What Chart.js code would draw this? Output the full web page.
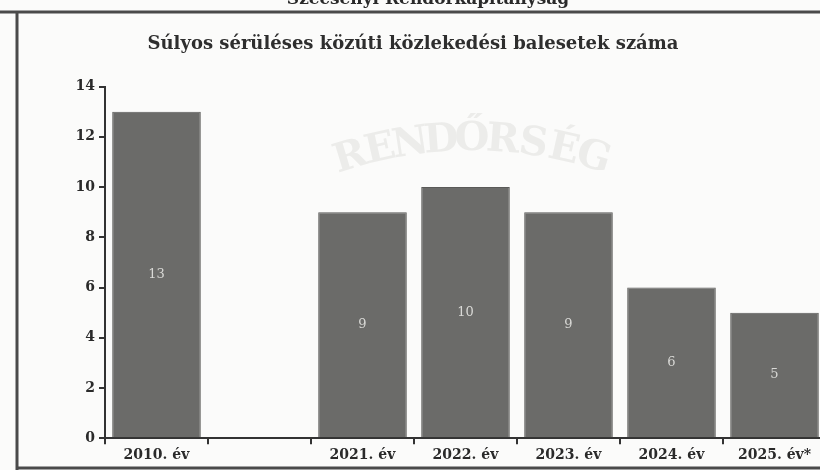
<!DOCTYPE html>
<html>
<head>
<meta charset="utf-8">
<script src="https://cdn.jsdelivr.net/npm/chart.js@4.4.1/dist/chart.umd.min.js"></script>
<style>
  html, body { margin: 0; padding: 0; overflow: hidden; background: #fbfbfa; }
  #wrap { width: 830px; height: 470px; }
</style>
</head>
<body>
<div id="wrap"><canvas id="myChart" width="830" height="470"></canvas></div>
<script>
const categories = ['2010. év', '', '2021. év', '2022. év', '2023. év', '2024. év', '2025. év*'];
const accidents = [13, null, 9, 10, 9, 6, 5];
const yTicks = [0, 2, 4, 6, 8, 10, 12, 14];

const serif = "'DejaVu Serif', 'Liberation Serif', serif";

// keret, fejléc és halvány vízjel
const decor = {
  id: 'decor',
  beforeDraw(chart) {
    const c = chart.ctx;
    c.save();
    c.fillStyle = '#fbfbfa';
    c.fillRect(0, 0, chart.width, chart.height);
    // fejléc, felül levágva
    c.fillStyle = '#2a2a2a';
    c.font = 'bold 17px ' + serif;
    c.textAlign = 'center';
    c.textBaseline = 'middle';
    c.fillText('Szécsényi Rendőrkapitányság', 428, 0);
    // keret
    c.strokeStyle = '#4a4a4a';
    c.lineWidth = 3;
    c.beginPath();
    c.moveTo(0, 12);
    c.lineTo(chart.width, 12);
    c.moveTo(17, 12);
    c.lineTo(17, chart.height);
    c.moveTo(17, 468);
    c.lineTo(chart.width, 468);
    c.stroke();
    c.restore();
  },
  beforeDatasetsDraw(chart) {
    const c = chart.ctx;
    c.save();
    c.fillStyle = '#ececea';
    c.font = 'bold 40px ' + serif;
    c.textAlign = 'center';
    c.textBaseline = 'middle';
    const txt = 'RENDŐRSÉG';
    const cx = 472, cy = 560, r = 420;
    const span = 0.66;
    for (let i = 0; i < txt.length; i++) {
      const a = -Math.PI / 2 - span / 2 + span * (i + 0.5) / txt.length;
      c.save();
      c.translate(cx + r * Math.cos(a), cy + r * Math.sin(a));
      c.rotate(a + Math.PI / 2);
      c.fillText(txt[i], 0, 0);
      c.restore();
    }
    c.restore();
  }
};

// értékek az oszlopok közepén
const barLabels = {
  id: 'barLabels',
  afterDatasetsDraw(chart) {
    const c = chart.ctx;
    const meta = chart.getDatasetMeta(0);
    c.save();
    c.fillStyle = '#d9d9d6';
    c.font = '13px ' + serif;
    c.textAlign = 'center';
    c.textBaseline = 'middle';
    meta.data.forEach(function(bar, i) {
      if (accidents[i] == null) return;
      c.fillText(String(accidents[i]), bar.x, (bar.y + bar.base) / 2);
    });
    c.restore();
  }
};

const ctx = document.getElementById('myChart').getContext('2d');
const chart = new Chart(ctx, {
  type: 'bar',
  data: {
    labels: categories,
    datasets: [{
      data: accidents,
      backgroundColor: '#6b6b69',
      borderColor: '#5a5a58',
      borderWidth: 1,
      categoryPercentage: 1,
      barPercentage: 0.86
    }]
  },
  options: {
    responsive: false,
    animation: false,
    layout: { padding: { left: 0, right: 4, top: 0, bottom: 3 } },
    plugins: {
      legend: { display: false },
      tooltip: { enabled: false },
      title: {
        display: true,
        text: 'Súlyos sérüléses közúti közlekedési balesetek száma',
        color: '#2e2e2e',
        font: { family: serif, size: 18, weight: 'bold' },
        padding: { top: 34, bottom: 31 }
      }
    },
    scales: {
      x: {
        offset: true,
        grid: { offset: true, drawOnChartArea: false, color: '#333', tickLength: 6, lineWidth: 2 },
        border: { color: '#333', width: 2 },
        ticks: { color: '#2a2a2a', font: { family: serif, size: 14, weight: 'bold' }, padding: 3, maxRotation: 0 }
      },
      y: {
        min: 0,
        max: 14,
        afterBuildTicks(axis) { axis.ticks = yTicks.map(v => ({ value: v })); },
        afterFit(axis) { axis.width = 105; },
        grid: { drawOnChartArea: false, color: '#333', tickLength: 6, lineWidth: 2 },
        border: { color: '#333', width: 2 },
        ticks: { color: '#2a2a2a', font: { family: serif, size: 14, weight: 'bold' }, padding: 4 }
      }
    }
  },
  plugins: [decor, barLabels]
});
</script>
</body>
</html>
